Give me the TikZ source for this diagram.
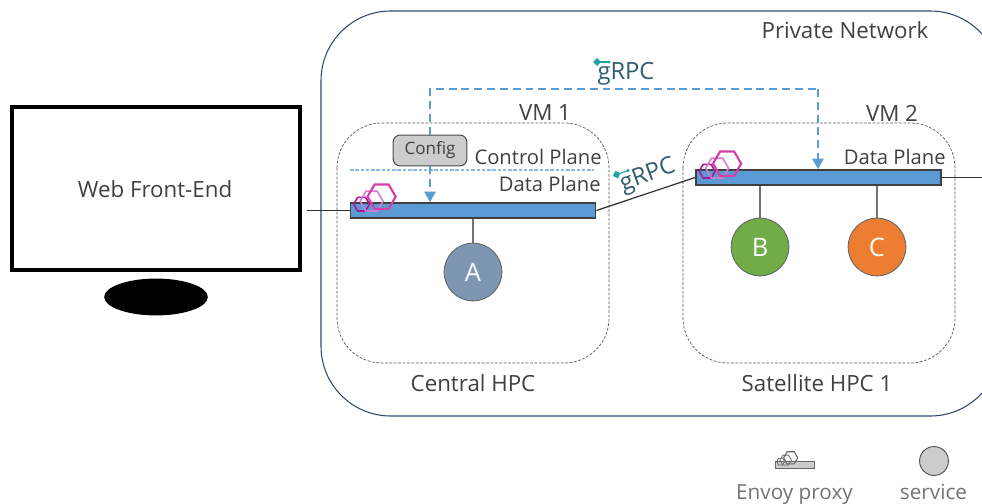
\documentclass[tikz,border=0pt]{standalone}
\usepackage{fontspec}
\setmainfont{Open Sans}
\usetikzlibrary{positioning,arrows.meta,shapes.geometric}
\definecolor{txtgray}{HTML}{404040}
\definecolor{barblue}{HTML}{5B9BD5}
\definecolor{netblue}{HTML}{2F4670}
\definecolor{grpcteal}{HTML}{2F5D70}
\definecolor{grpcdot}{HTML}{1FA3A3}
\definecolor{envoypink}{HTML}{D93CA8}
\definecolor{envoymid}{HTML}{D77BD0}
\definecolor{envoydark}{HTML}{A8189A}
\definecolor{legendgray}{HTML}{666666}
\definecolor{svcblue}{HTML}{7F96B2}
\definecolor{svcgreen}{HTML}{70AD47}
\definecolor{svcorange}{HTML}{ED7D31}
\tikzset{
	vmbox/.style={draw=black!65, dash pattern=on 1.6pt off 0.9pt, line width=0.4pt, rounded corners=25.5pt},
	proxybar/.style={draw=black!75, fill=barblue, line width=1pt, minimum width=246*0.5669pt, minimum height=15*0.5669pt, inner sep=0pt},
	servicenode/.style={circle, draw=black!60, line width=0.5pt, minimum size=58*0.5669pt, inner sep=0pt, text=white, font=\fontsize{14.5}{16}\selectfont},
	txtlabel/.style={text=txtgray, font=\fontsize{12.7}{14}\selectfont, inner sep=0pt},
	planelabel/.style={text=txtgray, font=\fontsize{11.5}{14}\selectfont, inner sep=0pt, anchor=east},
	legendlabel/.style={text=black!55, font=\fontsize{11.8}{13}\selectfont, inner sep=0pt, anchor=base},
	plink/.style={draw=black!80, line width=0.7pt},
	blink/.style={draw=black!55, line width=0.6pt},
	grpcflow/.style={draw=barblue, dash pattern=on 4.5pt off 2.8pt, line width=0.9pt},
	hexa/.style={regular polygon, regular polygon sides=6, inner sep=0pt, fill=none},
}
\newcommand{\envoylogo}[6][1]{%
	\begin{scope}[shift={(#2)}, x=#1*0.02cm, y=-#1*0.02cm]
		\node[hexa, draw=#3, line width=#1*0.9pt, minimum size=#1*9pt] (#6a) at (12, 2) {};
		\node[hexa, draw=#4, line width=#1*0.9pt, minimum size=#1*13pt] (#6b) at (22, -1) {};
		\node[hexa, draw=#5, line width=#1*1.2pt, minimum size=#1*16pt] (#6c) at (32, -5.5) {};
	\end{scope}}
\newcommand{\grpctag}[3]{%
	\node[rotate=#2, text=grpcteal, font=\fontsize{13.5}{15}\selectfont, inner sep=0pt] (#3) at (#1) {gRPC};
	\begin{scope}[shift={(#1)}, rotate=#2]
		\draw[grpcdot, line width=0.6pt] (-29, -12) -- (-17, -12);
		\fill[grpcdot] (-29, -16) -- (-25, -12) -- (-29, -8) -- (-33, -12) -- cycle;
		\fill[grpcdot] (-17, -12) circle (1.7);
	\end{scope}}

\begin{document}
\begin{tikzpicture}[x=0.02cm, y=-0.02cm]
	%%%%% START %%%%%
	\useasboundingbox (0, 0) rectangle (982, 503);
	\begin{scope}
		\clip (0, 0) rectangle (982, 503);
		\draw[draw=netblue, line width=0.6pt, rounded corners=39.7pt] (321, 11) rectangle (1000, 416);
	\end{scope}
	\node[txtlabel] (privatenet) at (845, 30) {Private Network};

	% monitor
	\node[draw=black, line width=2.4pt, minimum width=289*0.5669pt, minimum height=163*0.5669pt, inner sep=0pt] (webfront) at (156, 188.5) {};
	\node[txtlabel] (webtext) at (155, 189) {Web Front-End};
	\node[ellipse, fill=black, minimum width=104*0.5669pt, minimum height=37*0.5669pt, inner sep=0pt] (stand) at (156, 297) {};

	% vms
	\draw[vmbox] (337, 123) rectangle (609, 363);
	\draw[vmbox] (683, 123) rectangle (955, 363);
	\node[txtlabel] (vmone) at (545, 113) {VM 1};
	\node[txtlabel] (vmtwo) at (892, 113) {VM 2};
	\node[txtlabel] (central) at (473, 383) {Central HPC};
	\node[txtlabel] (satellite) at (817, 383) {Satellite HPC 1};

	\node[proxybar] (proxya) at (473, 210.5) {};
	\node[proxybar] (proxyb) at (818.5, 177.5) {};
	\node[servicenode, fill=svcblue] (svca) at (473, 272) {A};
	\node[servicenode, fill=svcgreen] (svcb) at (760, 247) {B};
	\node[servicenode, fill=svcorange] (svcc) at (877, 247) {C};
	\node[draw=black!70, fill=black!20, rounded corners=4pt, line width=0.6pt, minimum width=74*0.5669pt, minimum height=31*0.5669pt, inner sep=0pt, text=txtgray, font=\fontsize{9.7}{12}\selectfont] (config) at (430, 150.5) {Config};

	\node[planelabel] (ctrlplane) at (602, 157) {Control Plane};
	\node[planelabel] (dataplanea) at (601, 184) {Data Plane};
	\node[planelabel] (dataplaneb) at (946, 157) {Data Plane};
	\coordinate (divl) at (350, 170);
	\coordinate (divr) at (594, 170);
	\draw[barblue!70, dash pattern=on 2pt off 1pt, line width=0.6pt] (divl) -- (divr);

	% connectors
	\coordinate (frontend) at (307, 210.5);
	\coordinate (freeend) at (982, 177.5);
	\coordinate (bendl) at (430, 89);
	\coordinate (bendr) at (818, 89);
	\draw[plink] (frontend) -- (proxya.west);
	\draw[plink] (proxya.east) -- (proxyb.west);
	\draw[plink] (proxyb.east) -- (freeend);
	\draw[blink] (proxya.south) -- (svca.north);
	\draw[blink] (svcb |- proxyb.south) -- (svcb.north);
	\draw[blink] (svcc |- proxyb.south) -- (svcc.north);
	\draw[grpcflow] (config.north) -- (bendl) -- (bendr);
	\draw[grpcflow, -{Triangle[width=6.5pt, length=6pt, fill=barblue]}] (bendr) -- (bendr |- proxyb.north);
	\draw[grpcflow, -{Triangle[width=6.5pt, length=6pt, fill=barblue]}] (config.south) -- (config.south |- proxya.north);

	\envoylogo{proxya.north west}{envoydark}{envoymid}{envoypink}{logoa}
	\envoylogo{proxyb.north west}{envoydark}{envoymid}{envoypink}{logob}
	\grpctag{626, 74}{0}{grpctop}
	\grpctag{648, 176}{20}{grpcmid}

	% legend
	\node[draw=legendgray, fill=black!20, line width=0.5pt, minimum width=40*0.5669pt, minimum height=7*0.5669pt, inner sep=0pt] (legbar) at (795, 464.5) {};
	\envoylogo[0.5]{legbar.north west}{legendgray}{legendgray}{legendgray}{logoc}
	\node[circle, draw=black!70, fill=black!20, line width=0.5pt, minimum size=29*0.5669pt, inner sep=0pt] (legsvc) at (934, 461) {};
	\node[legendlabel] (legproxy) at (794.5, 499) {Envoy proxy};
	\node[legendlabel] (legservice) at (933.5, 499) {service};
	%%%%% END %%%%%
\end{tikzpicture}
\end{document}
